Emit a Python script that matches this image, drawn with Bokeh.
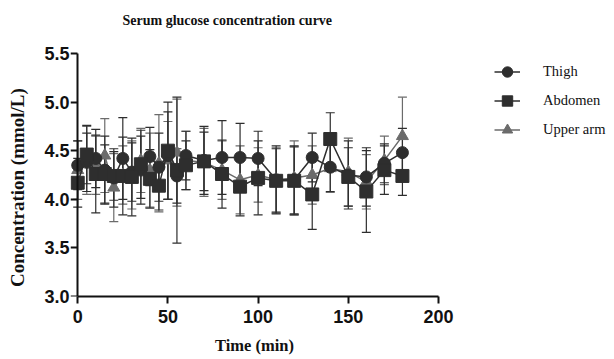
import math
from bokeh.plotting import figure
from bokeh.models import (Range1d, FixedTicker, NumeralTickFormatter, ColumnDataSource,
                          Whisker, TeeHead, Legend, LegendItem, Title, LinearAxis, Label)
from bokeh.embed import file_html
from bokeh.resources import INLINE

# ---- data ----
time_min = [0, 5, 10, 15, 20, 25, 30, 35, 40, 45, 50, 55, 60, 70, 80, 90, 100, 110, 120, 130, 140, 150, 160, 170, 180]

thigh = [4.35, 4.38, 4.42, 4.30, 4.22, 4.42, 4.28, 4.30, 4.44, 4.33, 4.45, 4.24, 4.45,
         4.40, 4.43, 4.43, 4.42, 4.20, 4.20, 4.43, 4.33, 4.25, 4.23, 4.37, 4.48]
thigh_sd = [0.25, 0.30, 0.30, 0.35, 0.30, 0.42, 0.30, 0.35, 0.30, 0.35, 0.45, 0.28, 0.25,
            0.35, 0.38, 0.35, 0.28, 0.35, 0.35, 0.25, 0.25, 0.35, 0.30, 0.20, 0.25]

abdomen = [4.17, 4.46, 4.26, 4.26, 4.24, 4.24, 4.23, 4.36, 4.21, 4.14, 4.50, 4.30, 4.35,
           4.39, 4.26, 4.13, 4.22, 4.19, 4.19, 4.05, 4.62, 4.23, 4.08, 4.30, 4.24]
abdomen_sd = [0.25, 0.30, 0.40, 0.30, 0.25, 0.40, 0.40, 0.35, 0.30, 0.25, 0.50, 0.75, 0.25,
              0.30, 0.35, 0.30, 0.38, 0.33, 0.35, 0.36, 0.27, 0.30, 0.42, 0.25, 0.20]

upper_arm = [4.30, 4.40, 4.35, 4.45, 4.12, 4.25, 4.25, 4.40, 4.30, 4.37, 4.40, 4.48, 4.40,
             4.38, 4.30, 4.20, 4.25, 4.20, 4.22, 4.25, 4.32, 4.28, 4.18, 4.40, 4.65]
upper_arm_sd = [0.30, 0.35, 0.30, 0.38, 0.35, 0.30, 0.35, 0.33, 0.38, 0.50, 0.40, 0.55, 0.30,
                0.35, 0.30, 0.35, 0.28, 0.33, 0.38, 0.30, 0.25, 0.35, 0.28, 0.25, 0.40]

x_ticks = [0, 50, 100, 150, 200]
y_ticks = [3.0, 3.5, 4.0, 4.5, 5.0, 5.5]

series_names = ["Thigh", "Abdomen", "Upper arm"]

DARK = "#2e2e2e"
GRAY = "#6b6b6b"
INK = "#111111"
SERIF = "Liberation Serif"
SANS = "Liberation Sans"

# frame extends a little above the last tick so the title can sit high
p = figure(frame_width=368, frame_height=265,
           min_border_left=70, min_border_right=176, min_border_top=31, min_border_bottom=63,
           x_range=Range1d(-4, 200), y_range=Range1d(3.0, 5.726),
           output_backend="svg", toolbar_location=None, title=None)
p.outline_line_color = None
p.xgrid.visible = False
p.ygrid.visible = False

# title
p.add_layout(Title(text="Serum glucose concentration curve", align="left", offset=52,
                   standoff=8, text_font=SERIF, text_font_style="bold",
                   text_font_size="14px", text_color=INK), "above")

# x axis
xa = p.xaxis[0]
xa.ticker = FixedTicker(ticks=x_ticks)
xa.bounds = (0, 200)
xa.axis_line_width = 2
xa.axis_line_color = INK
xa.major_tick_line_width = 2
xa.major_tick_line_color = INK
xa.major_tick_in = 0
xa.major_tick_out = 7
xa.minor_tick_line_color = None
xa.major_label_text_font = SANS
xa.major_label_text_font_style = "bold"
xa.major_label_text_font_size = "18px"
xa.major_label_text_color = INK
xa.major_label_standoff = 6
xa.axis_label = "Time (min)"
xa.axis_label_text_font = SERIF
xa.axis_label_text_font_style = "bold"
xa.axis_label_text_font_size = "16.5px"
xa.axis_label_text_color = INK
xa.axis_label_standoff = 10

# y axis (tick labels only, at frame edge)
ya = p.yaxis[0]
ya.ticker = FixedTicker(ticks=y_ticks)
ya.formatter = NumeralTickFormatter(format="0.0")
ya.axis_line_color = None
ya.major_tick_line_color = None
ya.major_tick_in = 0
ya.major_tick_out = 0
ya.minor_tick_line_color = None
ya.major_label_text_font = SANS
ya.major_label_text_font_style = "bold"
ya.major_label_text_font_size = "18px"
ya.major_label_text_color = INK
ya.major_label_standoff = 1

# y axis line and ticks located at x = 0
ya2 = LinearAxis(fixed_location=0, ticker=FixedTicker(ticks=y_ticks), bounds=(3.0, 5.5),
                 axis_line_width=2, axis_line_color=INK,
                 major_tick_line_width=2, major_tick_line_color=INK,
                 major_tick_in=0, major_tick_out=7, minor_tick_line_color=None,
                 major_label_text_font_size="1px", major_label_text_color=None,
                 major_label_standoff=0)
p.add_layout(ya2, "left")

# y axis title (side-panel annotation, placed in data coordinates)
p.add_layout(Label(x=-33.4, y=4.12, text="Concentration (mmol/L)", angle=math.pi / 2,
                   text_align="center", text_baseline="middle",
                   text_font=SERIF, text_font_style="bold", text_font_size="19px",
                   text_color=INK), "left")

data = [
    (thigh, thigh_sd, DARK, "circle", 12),
    (abdomen, abdomen_sd, DARK, "square", 13),
    (upper_arm, upper_arm_sd, GRAY, "triangle", 12),
]

sources = []
for vals, sd, color, marker, size in data:
    src = ColumnDataSource(dict(
        t=time_min, y=vals,
        lo=[v - s for v, s in zip(vals, sd)],
        hi=[v + s for v, s in zip(vals, sd)]))
    sources.append(src)

# error bars first (upper arm behind)
for idx in (2, 0, 1):
    vals, sd, color, marker, size = data[idx]
    w = Whisker(source=sources[idx], base="t", lower="lo", upper="hi",
                line_color=color, line_width=1.2,
                upper_head=TeeHead(size=9, line_color=color, line_width=1.2),
                lower_head=TeeHead(size=9, line_color=color, line_width=1.2))
    p.add_layout(w)

renderers = {}
for idx in (2, 0, 1):
    vals, sd, color, marker, size = data[idx]
    lr = p.line("t", "y", source=sources[idx], line_color=color, line_width=1.5)
    mr = p.scatter("t", "y", source=sources[idx], marker=marker, size=size,
                   fill_color=color, line_color=color)
    renderers[idx] = [lr, mr]

legend = Legend(items=[LegendItem(label=series_names[i], renderers=renderers[i]) for i in range(3)],
                location=(56, 152), orientation="vertical",
                glyph_width=26, glyph_height=29, label_height=29, spacing=0,
                label_standoff=23, padding=0, margin=0,
                border_line_color=None, background_fill_alpha=0,
                label_text_font=SERIF, label_text_font_size="14.5px", label_text_color=INK)
p.add_layout(legend, "right")

open("out.html", "w").write(file_html(p, INLINE))
